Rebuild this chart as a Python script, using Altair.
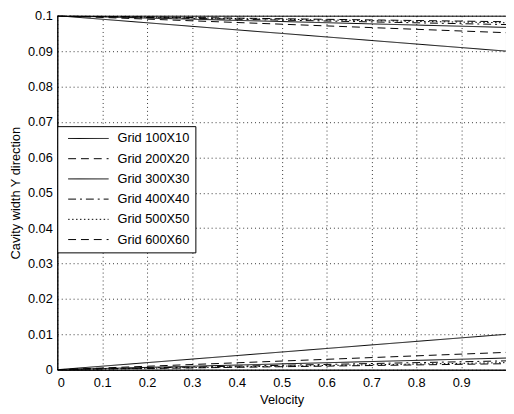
import altair as alt
import pandas as pd

grids = ["Grid 100X10", "Grid 200X20", "Grid 300X30", "Grid 400X40", "Grid 500X50", "Grid 600X60"]
velocity = [0.0, 1.0]
top_start = [0.1, 0.1, 0.1, 0.1, 0.1, 0.1]
top_end = [0.0900, 0.0952, 0.0967, 0.0975, 0.0980, 0.0983]
bottom_start = [0.0, 0.0, 0.0, 0.0, 0.0, 0.0]
bottom_end = [0.0100, 0.0049, 0.0033, 0.0025, 0.0020, 0.0017]
x_ticks = [0, 0.1, 0.2, 0.3, 0.4, 0.5, 0.6, 0.7, 0.8, 0.9]
y_ticks = [0, 0.01, 0.02, 0.03, 0.04, 0.05, 0.06, 0.07, 0.08, 0.09, 0.1]

dashes = [[1, 0], [8, 5], [1, 0], [8, 4, 2, 4], [1.5, 2.5], [8, 5]]

rows = []
for i, g in enumerate(grids):
    for wall, ys in (("top", [top_start[i], top_end[i]]), ("bottom", [bottom_start[i], bottom_end[i]])):
        for v, y in zip(velocity, ys):
            rows.append({"series": g, "wall": wall, "Velocity": v, "y": y})
df = pd.DataFrame(rows)

FONT = "Liberation Sans"

chart = alt.Chart(df).mark_line(color="black", strokeWidth=1, clip=True).encode(
    x=alt.X("Velocity:Q", scale=alt.Scale(domain=[0, 1], nice=False, zero=False),
            axis=alt.Axis(values=x_ticks, format=".1~f", title="Velocity", grid=True,
                          tickSize=0, labelPadding=7, titlePadding=4)),
    y=alt.Y("y:Q", scale=alt.Scale(domain=[0, 0.1], nice=False),
            axis=alt.Axis(values=y_ticks, format=".2~f", title="Cavity width Y direction", grid=True,
                          tickSize=0, labelPadding=5, titlePadding=5)),
    strokeDash=alt.StrokeDash("series:N", scale=alt.Scale(domain=grids, range=dashes),
                              legend=alt.Legend(title=None, orient="none", legendX=0, legendY=112,
                                                symbolType="M-4,0H4", symbolSize=105,
                                                symbolOffset=19,
                                                symbolStrokeWidth=1, symbolStrokeColor="black",
                                                labelFontSize=13, labelFont=FONT, labelColor="black",
                                                labelOffset=23, rowPadding=6.5, padding=6,
                                                strokeColor="black", fillColor="white",
                                                cornerRadius=0)),
    detail="wall:N",
).properties(
    width=455, height=359,
    autosize=alt.AutoSizeParams(type="none"),
    padding={"left": 50, "top": 5, "right": 0, "bottom": 36},
).configure_view(
    stroke="black", strokeWidth=1
).configure_axis(
    labelFont=FONT, titleFont=FONT, labelFontSize=13, titleFontSize=13,
    labelColor="black", titleColor="black", titleFontWeight="normal",
    domainColor="black", gridColor="black", gridDash=[1, 3], gridOpacity=0.8,
)

chart.save("out.html", embed_options={"renderer": "svg", "actions": False})
